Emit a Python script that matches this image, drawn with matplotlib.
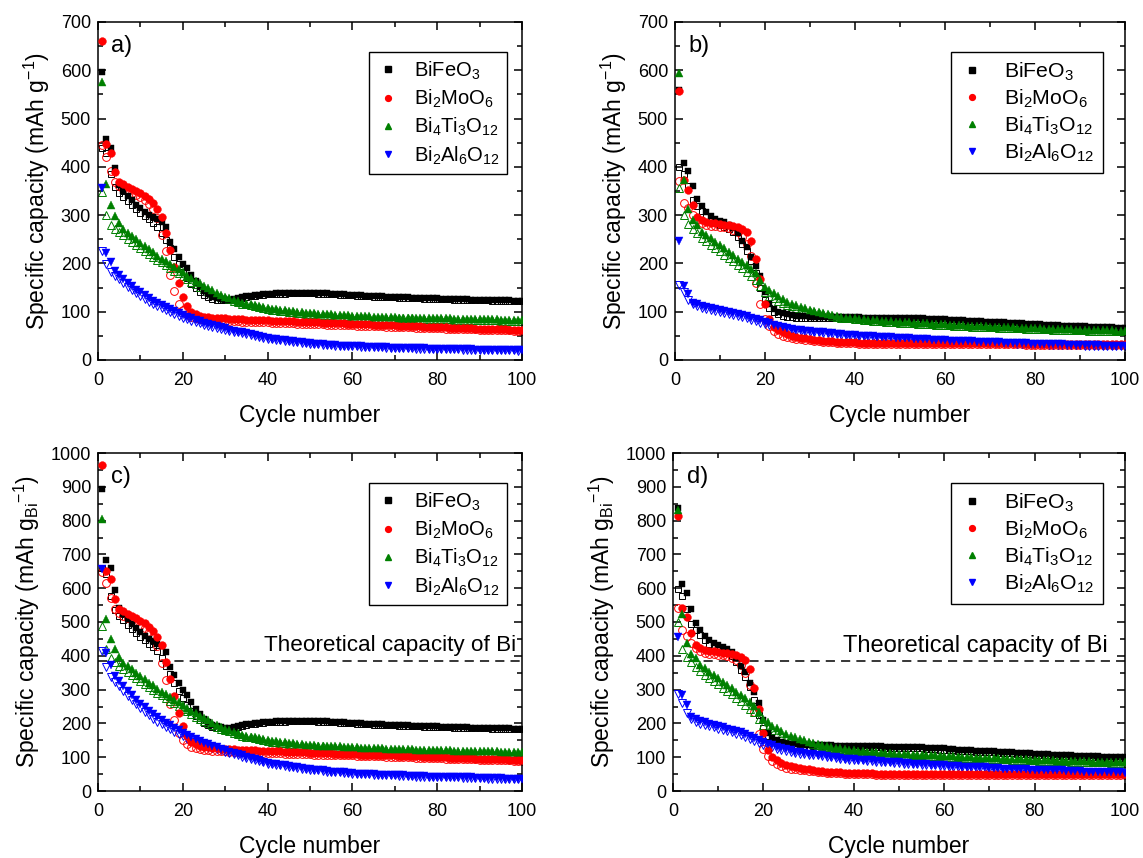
import matplotlib
matplotlib.use("Agg")
import matplotlib.pyplot as plt
from matplotlib.ticker import MultipleLocator
from matplotlib.lines import Line2D

plt.rcParams['font.family'] = ['Liberation Sans', 'DejaVu Sans']
plt.rcParams['mathtext.fontset'] = 'custom'
plt.rcParams['mathtext.rm'] = 'Liberation Sans'
plt.rcParams['mathtext.it'] = 'Liberation Sans:italic'
plt.rcParams['mathtext.bf'] = 'Liberation Sans:bold'
plt.rcParams['mathtext.sf'] = 'Liberation Sans'
plt.rcParams['mathtext.default'] = 'regular'

cycles = list(range(1, 101))
materials = ['BiFeO$_3$', 'Bi$_2$MoO$_6$', 'Bi$_4$Ti$_3$O$_{12}$', 'Bi$_2$Al$_6$O$_{12}$']
colors = ['#000000', '#ff0000', '#008000', '#0000ff']
markers = ['s', 'o', '^', 'v']
# conversion from mAh g^-1 (compound) to mAh g_Bi^-1 (inverse Bi mass fraction)
bi_factor = [1.497, 1.459, 1.401, 1.847]
theoretical_bi = 385

# ---------------- panel a (filled = discharge, open = charge) ----------------
a_bfo_dis = [597, 457, 440, 397, 362, 350, 340, 331, 322, 314,
             307, 301, 296, 291, 286, 275, 245, 229, 214, 199,
             190, 176, 163, 152, 143, 136, 131, 128, 126, 125,
             125, 126, 128, 130, 132, 133, 134, 135, 136, 137,
             137, 138, 138, 138, 139, 139, 139, 139, 139, 139,
             139, 138, 138, 138, 137, 137, 136, 136, 135, 135,
             134, 134, 133, 133, 132, 132, 132, 131, 131, 131,
             130, 130, 130, 129, 129, 129, 128, 128, 128, 128,
             127, 127, 127, 126, 126, 126, 126, 125, 125, 125,
             125, 125, 124, 124, 124, 124, 124, 123, 123, 123]
a_bfo_ch = [440, 428, 385, 358, 345, 337, 329, 321, 313, 305,
            298, 291, 284, 276, 262, 248, 232, 214, 198, 183,
            170, 158, 149, 141, 135, 130, 127, 125, 124, 124,
            124, 125, 127, 129, 131, 132, 133, 134, 135, 136,
            136, 137, 137, 137, 138, 138, 138, 138, 138, 138,
            138, 137, 137, 137, 136, 136, 135, 135, 134, 134,
            133, 133, 132, 132, 131, 131, 131, 130, 130, 130,
            129, 129, 129, 128, 128, 128, 127, 127, 127, 127,
            126, 126, 126, 125, 125, 125, 125, 124, 124, 124,
            124, 124, 123, 123, 123, 123, 123, 122, 122, 122]
a_bmo_dis = [661, 447, 429, 390, 369, 364, 358, 354, 350, 345,
             340, 333, 325, 313, 297, 262, 228, 192, 159, 131,
             112, 100, 95, 92, 90, 89, 88, 87, 86, 86,
             85, 85, 84, 84, 83, 83, 83, 82, 82, 82,
             81, 81, 81, 80, 80, 80, 79, 79, 79, 78,
             78, 78, 77, 77, 77, 76, 76, 76, 75, 75,
             75, 74, 74, 74, 73, 73, 73, 72, 72, 72,
             71, 71, 71, 70, 70, 70, 69, 69, 69, 68,
             68, 68, 67, 67, 67, 66, 66, 66, 65, 65,
             65, 65, 64, 64, 64, 64, 63, 63, 63, 63]
a_bmo_ch = [445, 421, 392, 369, 360, 355, 350, 346, 342, 337,
            331, 323, 312, 295, 259, 226, 176, 143, 117, 103,
            95, 90, 87, 85, 84, 83, 82, 82, 81, 81,
            80, 80, 80, 79, 79, 79, 78, 78, 78, 78,
            77, 77, 77, 76, 76, 76, 75, 75, 75, 75,
            74, 74, 74, 73, 73, 73, 72, 72, 72, 72,
            71, 71, 71, 70, 70, 70, 70, 69, 69, 69,
            68, 68, 68, 68, 67, 67, 67, 66, 66, 66,
            66, 65, 65, 65, 65, 64, 64, 64, 64, 63,
            63, 63, 63, 62, 62, 62, 62, 61, 61, 61]
a_bto_dis = [575, 364, 321, 299, 283, 271, 264, 257, 250, 243,
             236, 229, 223, 216, 210, 204, 198, 193, 188, 182,
             175, 169, 164, 159, 154, 149, 144, 139, 135, 131,
             128, 125, 122, 119, 117, 115, 113, 111, 109, 107,
             106, 105, 104, 103, 102, 101, 100, 99, 98, 97,
             97, 96, 96, 95, 95, 94, 94, 93, 93, 92,
             92, 91, 91, 91, 90, 90, 90, 89, 89, 89,
             88, 88, 88, 88, 87, 87, 87, 87, 86, 86,
             86, 86, 86, 85, 85, 85, 85, 85, 84, 84,
             84, 84, 84, 84, 83, 83, 83, 83, 83, 83]
a_bto_ch = [348, 300, 280, 272, 265, 258, 251, 245, 238, 232,
            226, 220, 214, 208, 202, 196, 190, 185, 180, 174,
            168, 162, 157, 152, 147, 143, 139, 135, 131, 128,
            126, 123, 120, 117, 115, 113, 111, 109, 107, 105,
            104, 103, 102, 101, 100, 99, 98, 97, 96, 95,
            95, 94, 94, 93, 93, 92, 92, 91, 91, 90,
            90, 89, 89, 89, 88, 88, 88, 87, 87, 87,
            86, 86, 86, 86, 85, 85, 85, 85, 84, 84,
            84, 84, 84, 83, 83, 83, 83, 83, 82, 82,
            82, 82, 82, 82, 81, 81, 81, 81, 81, 81]
a_bao_dis = [356, 221, 202, 185, 176, 168, 160, 153, 146, 140,
             134, 128, 123, 118, 113, 109, 105, 101, 97, 93,
             89, 86, 83, 80, 77, 75, 72, 70, 68, 66,
             63, 61, 59, 57, 55, 53, 51, 49, 47, 45,
             44, 43, 42, 41, 40, 39, 38, 37, 36, 35,
             34, 33, 33, 32, 31, 31, 30, 30, 29, 29,
             28, 28, 27, 27, 27, 26, 26, 26, 25, 25,
             25, 25, 24, 24, 24, 24, 24, 23, 23, 23,
             23, 23, 22, 22, 22, 22, 22, 22, 21, 21,
             21, 21, 21, 21, 21, 20, 20, 20, 20, 20]
a_bao_ch = [225, 198, 183, 175, 168, 160, 152, 145, 139, 133,
            127, 121, 116, 111, 107, 103, 99, 95, 91, 88,
            84, 81, 78, 76, 73, 71, 69, 67, 65, 63,
            61, 59, 57, 55, 53, 51, 49, 48, 46, 44,
            43, 42, 41, 40, 39, 38, 37, 36, 35, 34,
            33, 33, 32, 31, 31, 30, 30, 29, 29, 28,
            28, 27, 27, 27, 26, 26, 26, 25, 25, 25,
            24, 24, 24, 24, 23, 23, 23, 23, 23, 22,
            22, 22, 22, 22, 22, 21, 21, 21, 21, 21,
            21, 20, 20, 20, 20, 20, 20, 20, 19, 19]

# ---------------- panel b ----------------
b_bfo_dis = [560, 409, 391, 360, 333, 318, 307, 298, 292, 288,
             285, 280, 274, 263, 247, 235, 214, 195, 173, 140,
             115, 105, 100, 97, 95, 93, 92, 91, 91, 90,
             90, 90, 90, 90, 90, 89, 89, 89, 89, 89,
             89, 88, 88, 88, 88, 88, 87, 87, 87, 87,
             87, 86, 86, 86, 86, 85, 85, 85, 84, 84,
             83, 83, 82, 82, 81, 81, 80, 80, 79, 79,
             79, 78, 78, 77, 77, 76, 76, 75, 75, 74,
             74, 73, 73, 72, 72, 71, 71, 71, 70, 70,
             70, 69, 69, 69, 68, 68, 68, 67, 67, 67]
b_bfo_ch = [400, 385, 360, 331, 318, 308, 298, 290, 284, 280,
            276, 272, 266, 255, 240, 225, 205, 180, 150, 125,
            108, 100, 95, 92, 90, 89, 88, 88, 87, 87,
            88, 88, 88, 88, 88, 87, 87, 87, 87, 87,
            87, 86, 86, 86, 86, 86, 85, 85, 85, 85,
            85, 84, 84, 84, 84, 83, 83, 83, 82, 82,
            81, 81, 80, 80, 79, 79, 78, 78, 77, 77,
            77, 76, 76, 75, 75, 74, 74, 73, 73, 72,
            72, 71, 71, 70, 70, 69, 69, 69, 68, 68,
            68, 67, 67, 67, 66, 66, 66, 65, 65, 65]
b_bmo_dis = [557, 372, 352, 321, 297, 290, 286, 284, 283, 282,
             280, 279, 277, 275, 271, 265, 247, 209, 167, 117,
             84, 68, 62, 57, 53, 50, 48, 46, 45, 44,
             42, 41, 40, 39, 39, 38, 38, 37, 37, 37,
             36, 36, 36, 36, 35, 35, 35, 35, 35, 35,
             35, 35, 35, 35, 35, 35, 35, 35, 35, 35,
             35, 35, 35, 35, 35, 35, 35, 35, 35, 35,
             35, 35, 35, 35, 35, 35, 35, 34, 34, 34,
             34, 34, 34, 34, 34, 34, 34, 34, 34, 34,
             34, 34, 34, 34, 34, 34, 34, 34, 34, 34]
b_bmo_ch = [371, 326, 315, 300, 290, 283, 280, 278, 277, 276,
            275, 273, 270, 265, 255, 240, 215, 160, 115, 85,
            70, 60, 54, 50, 47, 45, 44, 43, 42, 41,
            40, 39, 38, 37, 37, 36, 36, 35, 35, 35,
            34, 34, 34, 34, 33, 33, 33, 33, 33, 33,
            33, 33, 33, 33, 33, 33, 33, 33, 33, 33,
            33, 33, 33, 33, 33, 33, 33, 33, 33, 33,
            33, 33, 33, 33, 33, 33, 33, 32, 32, 32,
            32, 32, 32, 32, 32, 32, 32, 32, 32, 32,
            32, 32, 32, 32, 32, 32, 32, 32, 32, 32]
b_bto_dis = [594, 373, 313, 290, 280, 266, 259, 252, 245, 238,
             231, 224, 217, 210, 203, 196, 188, 180, 166, 152,
             145, 138, 132, 126, 121, 117, 113, 110, 107, 104,
             101, 99, 97, 95, 93, 91, 90, 88, 87, 86,
             85, 84, 83, 82, 82, 81, 80, 80, 79, 79,
             78, 78, 77, 77, 76, 76, 75, 75, 74, 74,
             73, 73, 72, 72, 71, 71, 70, 70, 70, 69,
             69, 69, 68, 68, 68, 67, 67, 67, 66, 66,
             66, 65, 65, 65, 64, 64, 64, 64, 63, 63,
             63, 63, 62, 62, 62, 62, 62, 61, 61, 61]
b_bto_ch = [356, 300, 282, 272, 262, 253, 246, 239, 232, 225,
            218, 211, 204, 197, 190, 182, 174, 166, 153, 140,
            133, 128, 123, 118, 114, 111, 108, 105, 103, 101,
            99, 97, 95, 93, 91, 90, 88, 87, 86, 85,
            84, 83, 82, 81, 80, 80, 79, 78, 78, 77,
            77, 76, 76, 75, 75, 74, 74, 73, 73, 72,
            72, 71, 71, 70, 70, 69, 69, 69, 68, 68,
            68, 67, 67, 67, 66, 66, 66, 65, 65, 65,
            64, 64, 64, 63, 63, 63, 63, 62, 62, 62,
            62, 61, 61, 61, 61, 61, 60, 60, 60, 60]
b_bao_dis = [247, 154, 137, 119, 115, 112, 110, 108, 106, 104,
             102, 100, 98, 96, 94, 91, 88, 85, 82, 79,
             76, 73, 71, 69, 67, 65, 63, 62, 61, 60,
             59, 58, 57, 56, 55, 54, 53, 52, 51, 51,
             50, 50, 49, 49, 48, 48, 47, 47, 46, 46,
             45, 45, 44, 44, 43, 43, 42, 42, 41, 41,
             40, 40, 40, 39, 39, 39, 38, 38, 38, 37,
             37, 37, 36, 36, 36, 35, 35, 35, 34, 34,
             34, 34, 33, 33, 33, 33, 32, 32, 32, 32,
             31, 31, 31, 31, 30, 30, 30, 30, 30, 29]
b_bao_ch = [155, 141, 125, 115, 111, 108, 106, 104, 102, 100,
            98, 96, 94, 92, 89, 86, 83, 80, 77, 74,
            72, 70, 68, 66, 64, 63, 61, 60, 59, 58,
            58, 57, 56, 55, 54, 53, 52, 51, 50, 50,
            49, 49, 48, 48, 47, 47, 46, 46, 45, 45,
            44, 44, 43, 43, 42, 42, 41, 41, 40, 40,
            39, 39, 39, 38, 38, 38, 37, 37, 37, 36,
            36, 36, 35, 35, 35, 34, 34, 34, 33, 33,
            33, 33, 32, 32, 32, 32, 31, 31, 31, 31,
            30, 30, 30, 30, 29, 29, 29, 29, 29, 28]

panel_a = [(a_bfo_dis, a_bfo_ch), (a_bmo_dis, a_bmo_ch),
           (a_bto_dis, a_bto_ch), (a_bao_dis, a_bao_ch)]
panel_b = [(b_bfo_dis, b_bfo_ch), (b_bmo_dis, b_bmo_ch),
           (b_bto_dis, b_bto_ch), (b_bao_dis, b_bao_ch)]


def to_bi(panel):
    return [([v * f for v in dis], [v * f for v in ch])
            for (dis, ch), f in zip(panel, bi_factor)]


panel_c = to_bi(panel_a)
panel_d = to_bi(panel_b)

fig = plt.figure(figsize=(11.43, 8.58), dpi=100)
W, H = 1143, 858


def add_ax(l, r, t, b):
    return fig.add_axes([l / W, 1 - b / H, (r - l) / W, (b - t) / H])


ax_a = add_ax(98, 522, 22, 360)
ax_b = add_ax(675, 1125, 22, 360)
ax_c = add_ax(98, 522, 453, 791)
ax_d = add_ax(673, 1125, 453, 791)

ylab_g = 'Specific capacity (mAh g$^{-1}$)'
ylab_bi = 'Specific capacity (mAh $\\mathregular{g_{Bi}}^{-1}$)'
# ax, data, tag, ymax, ylabel, theoretical line, text x (axes), text size, legend anchor x, legend font
specs = [
    (ax_a, panel_a, 'a)', 700, ylab_g, False, None, None, 0.965, 14.5),
    (ax_b, panel_b, 'b)', 700, ylab_g, False, None, None, 0.951, 15.3),
    (ax_c, panel_c, 'c)', 1000, ylab_bi, True, 0.987, 16.2, 0.965, 14.5),
    (ax_d, panel_d, 'd)', 1000, ylab_bi, True, 0.962, 17.0, 0.951, 15.3),
]

ms = {'s': 5.0, 'o': 5.6, '^': 6.0, 'v': 6.0}

for ax, panel, tag, ymax, ylab, theo, tx, tfs, lx, lfs in specs:
    if theo:
        ax.axhline(theoretical_bi, color='black', lw=1.1, ls=(0, (6, 4)), zorder=1)
        ax.text(tx, (theoretical_bi + 45) / ymax,
                'Theoretical capacity of Bi', transform=ax.transAxes,
                ha='right', va='center', fontsize=tfs)
    for (dis, ch), col, mk in zip(panel, colors, markers):
        ax.plot(cycles, ch, ls='none', marker=mk, ms=ms[mk], mfc='none',
                mec=col, mew=0.7, zorder=2)
        ax.plot(cycles, dis, ls='none', marker=mk, ms=ms[mk], mfc=col,
                mec=col, mew=0.3, zorder=3)
    ax.set_xlim(0, 100)
    ax.set_ylim(0, ymax)
    ax.xaxis.set_major_locator(MultipleLocator(20))
    ax.xaxis.set_minor_locator(MultipleLocator(10))
    ax.yaxis.set_major_locator(MultipleLocator(100))
    ax.yaxis.set_minor_locator(MultipleLocator(50))
    ax.tick_params(which='both', direction='in', top=True, right=True,
                   labelsize=13, width=1.1)
    ax.tick_params(which='major', length=6)
    ax.tick_params(which='minor', length=3.5)
    ax.tick_params(axis='x', which='both', pad=8.5)
    ax.tick_params(axis='y', which='both', pad=5)
    for sp in ax.spines.values():
        sp.set_linewidth(1.1)
    ax.set_xlabel('Cycle number', fontsize=16.5, labelpad=11)
    ax.set_ylabel(ylab, fontsize=16.5, labelpad=6)
    ax.text(0.03, 0.93, tag, transform=ax.transAxes, fontsize=17,
            ha='left', va='center')
    handles = [Line2D([], [], ls='none', marker=mk, ms=ms[mk] * 0.75,
                      mfc=col, mec=col) for col, mk in zip(colors, markers)]
    wide = lfs > 15
    leg = ax.legend(handles, materials, loc='upper right',
                    bbox_to_anchor=(lx, 0.91), frameon=True, fancybox=False,
                    edgecolor='black', framealpha=1, fontsize=lfs,
                    handlelength=1.2, handletextpad=0.9 if wide else 0.7,
                    borderpad=0.4 if wide else 0.35,
                    labelspacing=0.22 if wide else 0.3, borderaxespad=0)
    leg.get_frame().set_linewidth(1.0)

fig.savefig('out.png', dpi=100)
